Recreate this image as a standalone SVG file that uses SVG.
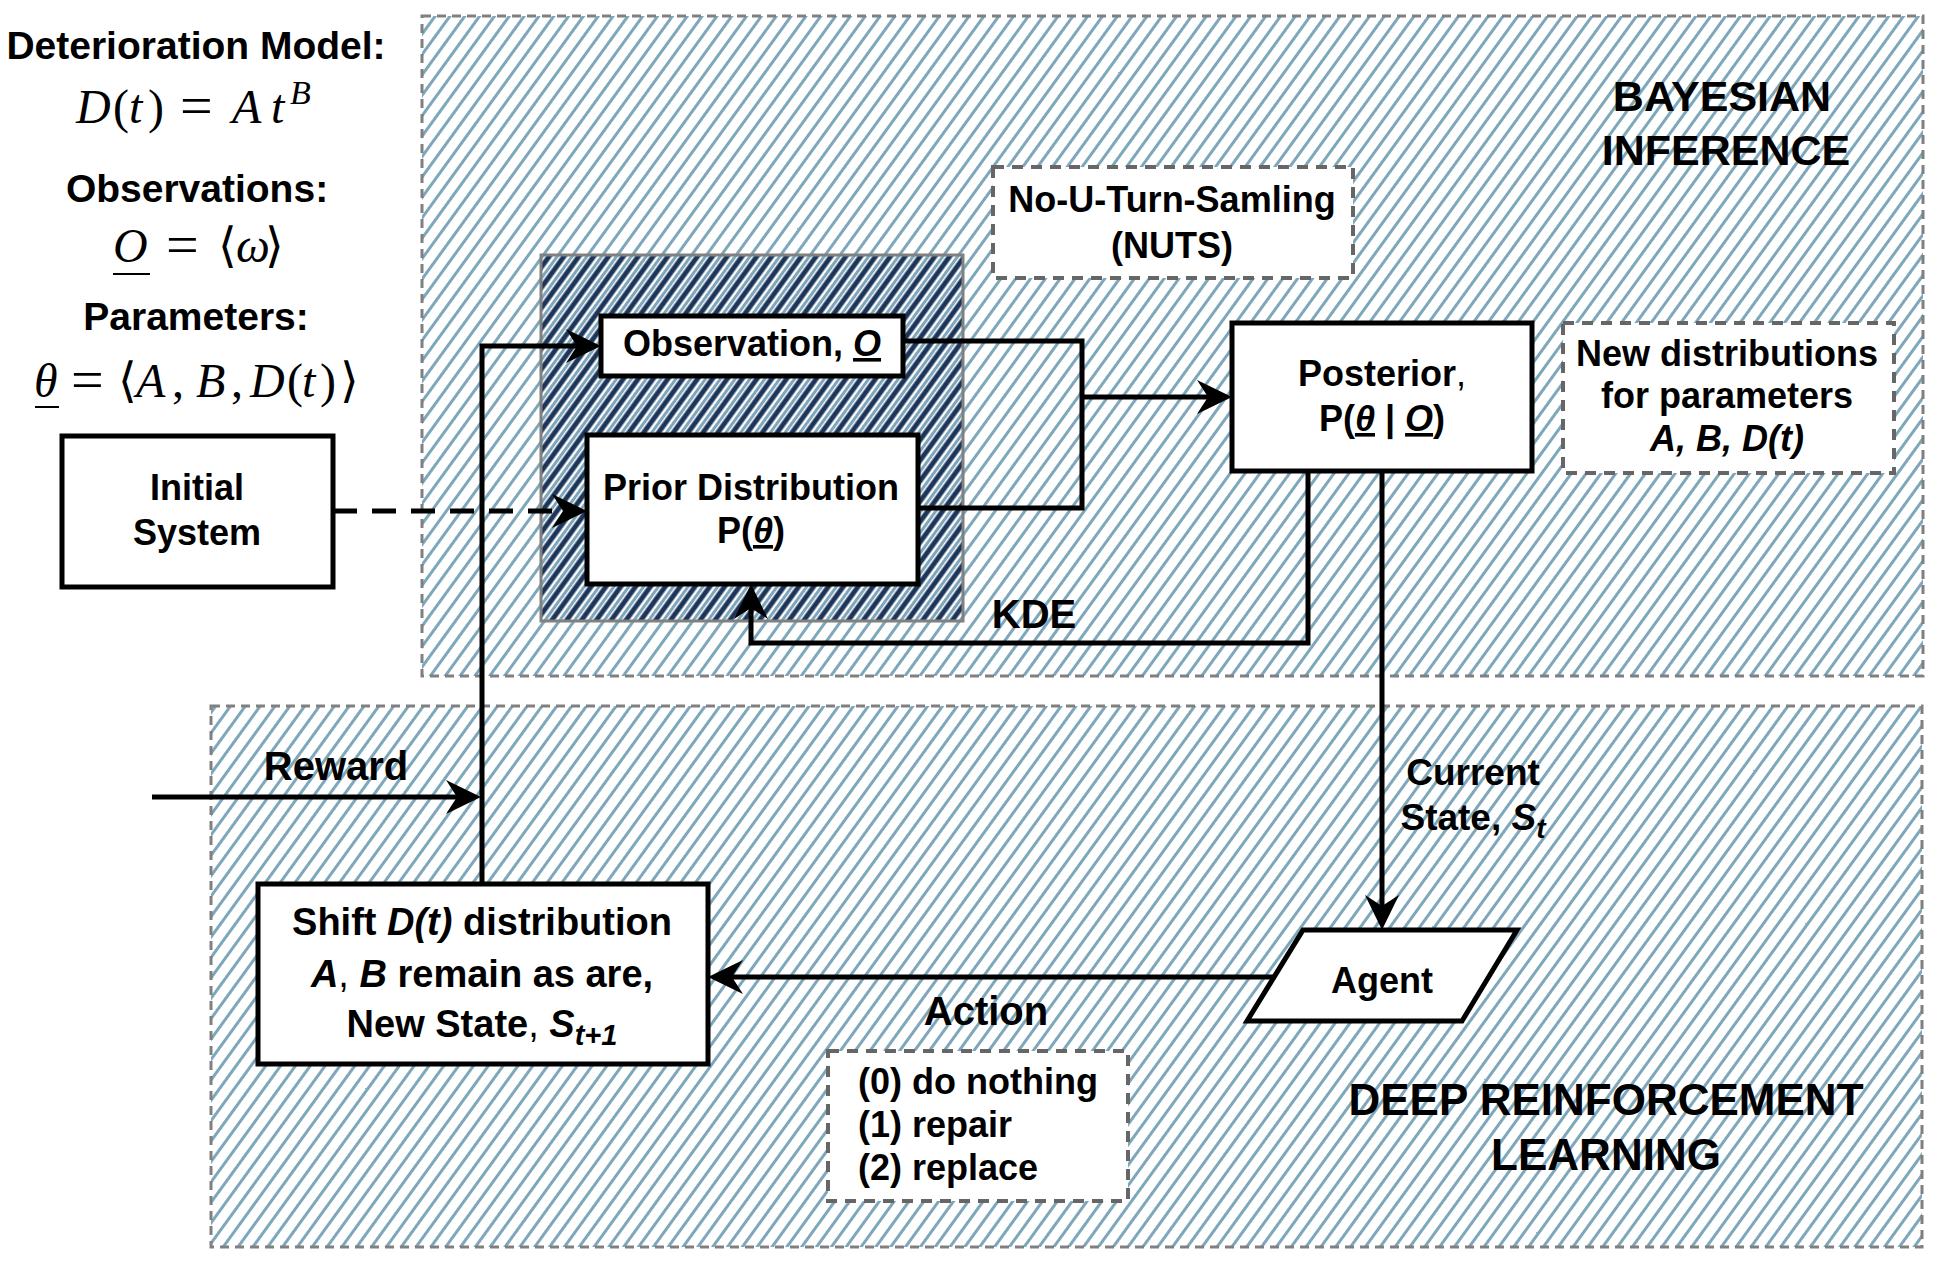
<svg xmlns="http://www.w3.org/2000/svg" width="1939" height="1263" viewBox="0 0 1939 1263">
<style>
.t{font-family:"Liberation Sans",Arial,sans-serif;font-weight:bold;fill:#000}
.c{text-anchor:middle}
.s36{font-size:36px}
.s38{font-size:38px}
.s40{font-size:40px}
.s43{font-size:43px}
.m{font-family:"Liberation Serif","DejaVu Serif",serif;font-size:48px;fill:#000}
.i{font-style:italic}
.box{fill:#fff;stroke:#000;stroke-width:5}
.dbox{fill:#fff;stroke:#666;stroke-width:4;stroke-dasharray:11 8}
.region{stroke:#808080;stroke-width:3;stroke-dasharray:9 6}
.ln{fill:none;stroke:#000;stroke-width:5}
</style>
<defs>
<pattern id="hl" patternUnits="userSpaceOnUse" width="12" height="20" patternTransform="rotate(36)">
<rect x="0" y="0" width="3" height="20" fill="#7ea7bb"/>
</pattern>
<pattern id="hd" patternUnits="userSpaceOnUse" width="12" height="20" patternTransform="rotate(36)">
<rect x="4.5" y="0" width="5" height="20" fill="#1b365a"/>
</pattern>
<marker id="arr" markerUnits="userSpaceOnUse" markerWidth="36" markerHeight="36" viewBox="0 0 36 36" refX="24" refY="18" orient="auto">
<path d="M0,1 L35,18 L0,35 L11,18 Z" fill="#000"/>
</marker>
</defs>
<rect width="1939" height="1263" fill="#fff"/>

<g id="bayesian-region">
<rect x="422" y="16" width="1501" height="660" fill="#fff"/>
<rect x="422" y="16" width="1501" height="660" fill="url(#hl)" class="region"/>
<text class="t s43 c" x="1722" y="111">BAYESIAN</text>
<text class="t s43 c" x="1726" y="165">INFERENCE</text>
</g>

<g id="drl-region">
<rect x="211" y="706" width="1711" height="541" fill="#fff"/>
<rect x="211" y="706" width="1711" height="541" fill="url(#hl)" class="region"/>
<text class="t c" font-size="44" x="1606" y="1115">DEEP REINFORCEMENT</text>
<text class="t c" font-size="44" x="1606" y="1170">LEARNING</text>
</g>

<g id="kde-box">
<rect x="541" y="255" width="422" height="366" fill="url(#hd)" stroke="#808080" stroke-width="3"/>
</g>

<g id="left-text">
<text class="t c" font-size="39" x="196" y="59">Deterioration Model:</text>
<text class="m"><tspan class="i" x="76" y="123">D</tspan><tspan x="113" y="123">(</tspan><tspan class="i" x="129" y="123">t</tspan><tspan x="148" y="123">)</tspan><tspan x="180" y="125" font-size="58">=</tspan><tspan class="i" x="232" y="123">A</tspan><tspan class="i" x="271" y="123">t</tspan><tspan class="i" x="290" y="104" font-size="34">B</tspan></text>
<text class="t c" font-size="39" x="197" y="202">Observations:</text>
<text class="m"><tspan class="i" x="113" y="262">O</tspan><tspan x="166" y="264" font-size="58">=</tspan><tspan x="218" y="262">⟨</tspan><tspan class="i" x="236" y="262">ω</tspan><tspan x="265" y="262">⟩</tspan></text>
<line x1="113" y1="274" x2="150" y2="274" stroke="#000" stroke-width="2"/>
<text class="t c" font-size="39" x="196" y="330">Parameters:</text>
<text class="m"><tspan class="i" x="34" y="397">θ</tspan><tspan x="71" y="399" font-size="58">=</tspan><tspan x="118" y="397">⟨</tspan><tspan class="i" x="136" y="397">A</tspan><tspan x="172" y="397">,</tspan><tspan class="i" x="196" y="397">B</tspan><tspan x="231" y="397">,</tspan><tspan class="i" x="250" y="397">D</tspan><tspan x="287" y="397">(</tspan><tspan class="i" x="302" y="397">t</tspan><tspan x="320" y="397">)</tspan><tspan x="340" y="397">⟩</tspan></text>
<line x1="35" y1="407" x2="59" y2="407" stroke="#000" stroke-width="2"/>
</g>

<g id="connectors">
<path class="ln" d="M903,341 H1082 V508 H918"/>
<path class="ln" d="M1082,397 H1221" marker-end="url(#arr)"/>
<path class="ln" d="M1308,471 V643 H751 V595" marker-end="url(#arr)"/>
<path class="ln" d="M1382,471 V919" marker-end="url(#arr)"/>
<path class="ln" d="M1274,977 H719" marker-end="url(#arr)"/>
<path class="ln" d="M482,884 V346 H590" marker-end="url(#arr)"/>
<path class="ln" d="M152,797 H470" marker-end="url(#arr)"/>
<path class="ln" d="M333,511 H576" stroke-dasharray="24 15" marker-end="url(#arr)"/>
<text class="t s40 c" x="1034" y="628">KDE</text>
<text class="t s40 c" x="336" y="780">Reward</text>
<text class="t s40 c" x="986" y="1025">Action</text>
<text class="t c" font-size="37" x="1473" y="785">Current</text>
<text class="t c" font-size="37" x="1473" y="830">State, <tspan font-style="italic">S</tspan><tspan font-style="italic" font-size="28" dy="8">t</tspan></text>
</g>

<g id="initial-system">
<rect class="box" x="62" y="436" width="271" height="151"/>
<text class="t s36 c" x="197" y="500">Initial</text>
<text class="t s36 c" x="197" y="545">System</text>
</g>

<g id="observation">
<rect class="box" x="601" y="316" width="302" height="60"/>
<text class="t s36 c" x="752" y="356">Observation, <tspan font-style="italic" text-decoration="underline">O</tspan></text>
</g>

<g id="prior">
<rect class="box" x="587" y="435" width="331" height="149"/>
<text class="t s36 c" x="751" y="500">Prior Distribution</text>
<text class="t s36 c" x="751" y="543">P(<tspan font-style="italic" text-decoration="underline">θ</tspan>)</text>
</g>

<g id="nuts">
<rect class="dbox" x="993" y="167" width="360" height="111"/>
<text class="t s36 c" x="1172" y="212">No-U-Turn-Samling</text>
<text class="t s36 c" x="1172" y="258">(NUTS)</text>
</g>

<g id="posterior">
<rect class="box" x="1232" y="323" width="300" height="148"/>
<text class="t s36 c" x="1382" y="386">Posterior<tspan font-weight="normal">,</tspan></text>
<text class="t s36 c" x="1382" y="431">P(<tspan font-style="italic" text-decoration="underline">θ</tspan> | <tspan font-style="italic" text-decoration="underline">O</tspan>)</text>
</g>

<g id="new-distributions">
<rect class="dbox" x="1563" y="323" width="331" height="150"/>
<text class="t s36 c" x="1727" y="366">New distributions</text>
<text class="t s36 c" x="1727" y="408">for parameters</text>
<text class="t s36 c" x="1727" y="451" font-style="italic">A, B, D(t)</text>
</g>

<g id="agent">
<polygon points="1303,930 1517,930 1462,1021 1247,1021" fill="#fff" stroke="#000" stroke-width="5"/>
<text class="t s36 c" x="1382" y="993">Agent</text>
</g>

<g id="shift">
<rect class="box" x="258" y="884" width="450" height="180"/>
<text class="t s38 c" x="482" y="935">Shift <tspan font-style="italic">D(t)</tspan> distribution</text>
<text class="t s38 c" x="482" y="987"><tspan font-style="italic">A</tspan><tspan font-weight="normal">,</tspan> <tspan font-style="italic">B</tspan> remain as are,</text>
<text class="t s38 c" x="482" y="1037">New State<tspan font-weight="normal">,</tspan> <tspan font-style="italic">S</tspan><tspan font-style="italic" font-size="29" dy="8">t+1</tspan></text>
</g>

<g id="actions">
<rect class="dbox" x="828" y="1051" width="300" height="150"/>
<text class="t s36" x="858" y="1094">(0) do nothing</text>
<text class="t s36" x="858" y="1137">(1) repair</text>
<text class="t s36" x="858" y="1180">(2) replace</text>
</g>
</svg>
